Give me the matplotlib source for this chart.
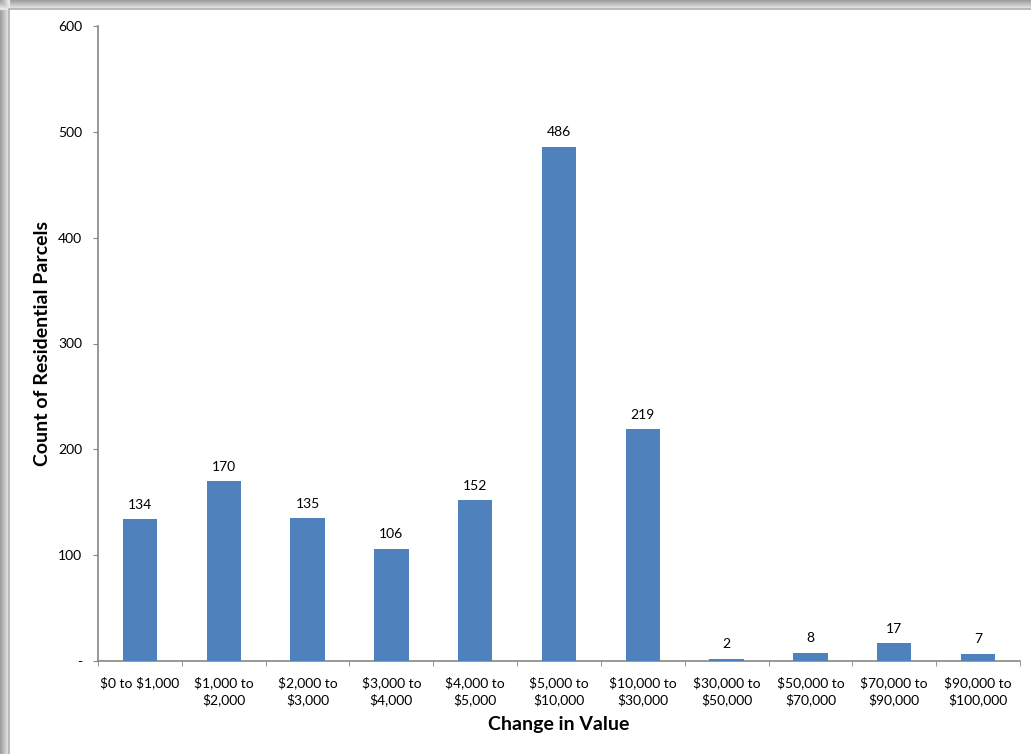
import numpy as np
import matplotlib
matplotlib.use('Agg')
import matplotlib.pyplot as plt
from matplotlib.patches import Rectangle

plt.rcParams['font.family'] = ['Lato', 'DejaVu Sans']
plt.rcParams['text.parse_math'] = False

categories = ['$0 to $1,000', '$1,000 to\n$2,000', '$2,000 to\n$3,000', '$3,000 to\n$4,000',
              '$4,000 to\n$5,000', '$5,000 to\n$10,000', '$10,000 to\n$30,000', '$30,000 to\n$50,000',
              '$50,000 to\n$70,000', '$70,000 to\n$90,000', '$90,000 to\n$100,000']
parcels = [134, 170, 135, 106, 152, 486, 219, 2, 8, 17, 7]
y_ticks = [0, 100, 200, 300, 400, 500, 600]
y_tick_labels = ['-', '100', '200', '300', '400', '500', '600']

axis_grey = '#868686'
bar_blue = '#4F81BD'

fig = plt.figure(figsize=(10.31, 7.54), dpi=100)

# soft grey shadow along the top and left of the chart frame
shade = np.linspace(0.62, 0.9, 9)
for i, g in enumerate(shade):
    fig.patches.append(Rectangle((0, 1 - (i + 1) / 754), 1, 1 / 754, transform=fig.transFigure,
                                 color=str(g), zorder=0))
    fig.patches.append(Rectangle((i / 1031, 0), 1 / 1031, 1, transform=fig.transFigure,
                                 color=str(g), zorder=0))
fig.patches.append(Rectangle((9 / 1031, -0.01), 1.1, 1 - 9 / 754 + 0.01, transform=fig.transFigure,
                             facecolor='white', edgecolor='#B0B0B0', linewidth=1.2, zorder=1))

ax = fig.add_axes([98 / 1031, 93 / 754, 922 / 1031, 635 / 754])
ax.set_zorder(2)
ax.patch.set_alpha(0)

x = np.arange(len(categories))
bars = ax.bar(x, parcels, width=0.41, color=bar_blue, zorder=3)
for b, v in zip(bars, parcels):
    ax.text(b.get_x() + b.get_width() / 2, v + 8, str(v), ha='center', va='bottom',
            fontsize=10, color='black')

ax.set_xlim(-0.5, len(categories) - 0.5)
ax.set_ylim(0, 600)
ax.set_yticks(y_ticks)
ax.set_yticklabels(y_tick_labels, fontsize=10)
ax.set_xticks(x)
ax.set_xticklabels(categories, fontsize=10, linespacing=1.35)
ax.set_xticks(np.arange(len(categories) + 1) - 0.5, minor=True)
ax.tick_params(axis='x', which='major', length=0, pad=11)
ax.tick_params(axis='x', which='minor', length=3.5, color=axis_grey, direction='out')
ax.tick_params(axis='y', length=3.5, color=axis_grey, direction='out', pad=8)

for side in ['top', 'right']:
    ax.spines[side].set_visible(False)
for side in ['left', 'bottom']:
    ax.spines[side].set_color(axis_grey)
    ax.spines[side].set_linewidth(1.2)

ax.set_xlabel('Change in Value', fontsize=14, fontweight='bold')
ax.set_ylabel('Count of Residential Parcels', fontsize=14, fontweight='bold')
ax.xaxis.set_label_coords(0.5, -0.086)
ax.yaxis.set_label_coords(-0.051, 0.5)

fig.savefig('out.png', dpi=100)
